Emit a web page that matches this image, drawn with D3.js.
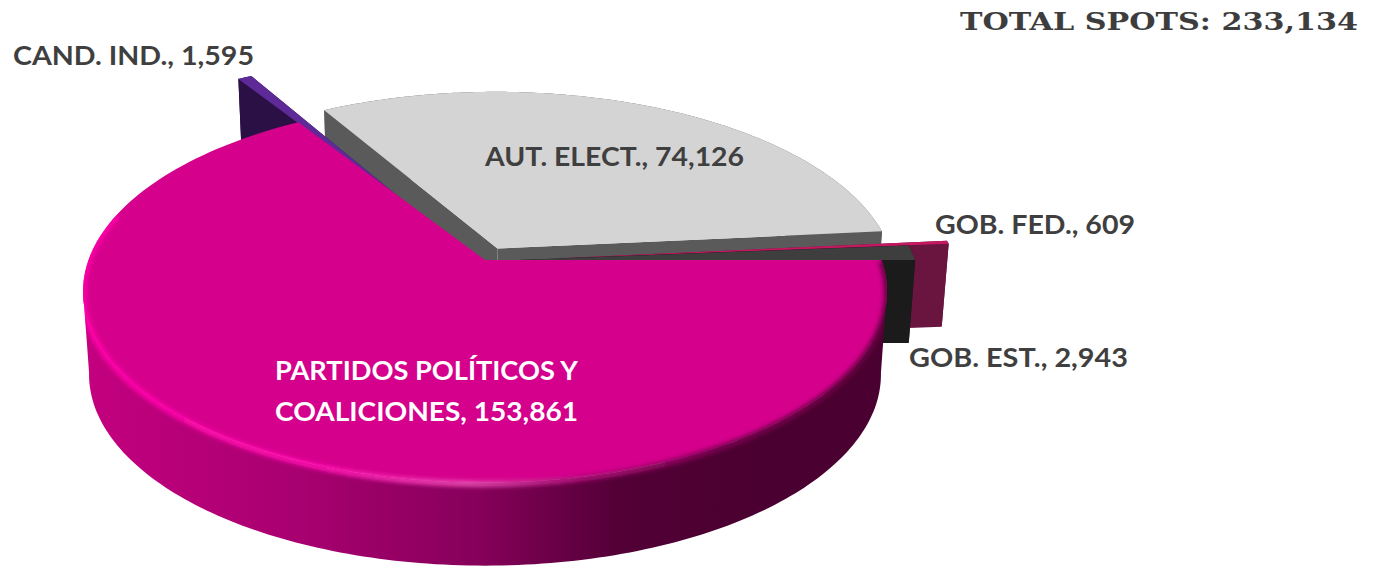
<!DOCTYPE html>
<html><head><meta charset="utf-8">
<script src="https://cdn.jsdelivr.net/npm/d3@7"></script>
<style>html,body{margin:0;padding:0;background:#fff;overflow:hidden}svg{display:block}</style>
</head><body>
<svg id="c" width="1373" height="568"></svg>
<script>
const categories = ["PARTIDOS POLÍTICOS Y COALICIONES", "CAND. IND.", "AUT. ELECT.", "GOB. FED.", "GOB. EST."];
const values = [153861, 1595, 74126, 609, 2943];
const totalLabel = "TOTAL SPOTS: 233,134";
const topColors = ["#D5008C", "#5E2A97", "#D4D4D4", "#C4185F", "#3E3E3E"];
const wallColors = [null, "#2B1046", "#5A5A5A", "#6A1440", "#1B1B1B"];
const explodeRadius = [0, 0.376, 0.07, 0.19, 0.085];
const explodeDir = [0, -33, 27, 87, 90];

const fmt = d3.format(",");
const svg = d3.select("#c");
const defs = svg.append("defs");
const CX = 485, CY = 260, R = 396.5, A = 186, K = 0.1646, DEPTH = 83, SX = 0.985;
const rad = d3.scaleLinear().domain([0, 360]).range([0, 2 * Math.PI]);
const project = (u, v, z) => {
  const w = 1 - K * v;
  return [CX + (R * u / w) * (1 - (1 - SX) * z), CY + A * v / w + DEPTH * z];
};
const pie = d3.pie().sort(null).value(d => d)
  .startAngle(Math.PI / 2).endAngle(Math.PI / 2 + 2 * Math.PI);
const arcs = pie(values);

const line = d3.line();
const offset = i => [explodeRadius[i] * Math.sin(rad(explodeDir[i])), -explodeRadius[i] * Math.cos(rad(explodeDir[i]))];
const rim = (i, z, a0, a1, n = 160) => {
  const [ox, oy] = offset(i);
  return d3.range(n + 1).map(k => {
    const a = a0 + (a1 - a0) * k / n;
    return project(ox + Math.sin(a), oy - Math.cos(a), z);
  });
};
const apex = (i, z) => { const [ox, oy] = offset(i); return project(ox, oy, z); };
const closed = pts => line(pts) + "Z";

// gradients and filters
const sideGrad = defs.append("linearGradient").attr("id", "side")
  .attr("gradientUnits", "userSpaceOnUse").attr("x1", 82).attr("x2", 885).attr("y1", 0).attr("y2", 0);
[[0, "#C4007F"], [0.27, "#A80070"], [0.495, "#86005A"], [0.67, "#520036"], [0.85, "#4A0030"], [1, "#4A0030"]]
  .forEach(([o, c]) => sideGrad.append("stop").attr("offset", o).attr("stop-color", c));
const rimGrad = defs.append("linearGradient").attr("id", "rim")
  .attr("gradientUnits", "userSpaceOnUse").attr("x1", 82).attr("x2", 885).attr("y1", 0).attr("y2", 0);
[[0, "#FF00A8"], [0.3, "#FF10B0"], [0.48, "#E84AB0"], [0.62, "#B0107A"], [0.8, "#7A0050"], [1, "#6A0044"]]
  .forEach(([o, c]) => rimGrad.append("stop").attr("offset", o).attr("stop-color", c));
defs.append("filter").attr("id", "blur").attr("x", "-5%").attr("y", "-5%").attr("width", "110%").attr("height", "110%")
  .append("feGaussianBlur").attr("stdDeviation", 2);

const drawSlice = (i) => {
  const d = arcs[i], g = svg.append("g");
  const wall = wallColors[i];
  const a0 = d.startAngle, a1 = d.endAngle;
  const radial = a => {
    const outerTop = rim(i, 0, a, a, 1)[0], outerBot = rim(i, 1, a, a, 1)[0];
    return [apex(i, 0), outerTop, outerBot, apex(i, 1)];
  };
  g.append("path").attr("d", closed(radial(a0))).attr("fill", wall);
  g.append("path").attr("d", closed(radial(a1))).attr("fill", wall);
  g.append("path").attr("d", closed(rim(i, 0, a0, a1).concat(rim(i, 1, a0, a1).reverse()))).attr("fill", wall);
  g.append("path").attr("d", closed([apex(i, 0)].concat(rim(i, 0, a0, a1)))).attr("fill", topColors[i]);
};

// back slices first (the purple sliver lies in front of the grey wall), the large front slice last
[2, 1, 3, 4].forEach(drawSlice);

const m = arcs[0];
// the side band runs between the rim's rightmost and leftmost points, its visible silhouette
const rightmost = rad(99), leftmost = rad(261);
const bandPts = rim(0, 0, rightmost, leftmost).concat(rim(0, 1, rightmost, leftmost).reverse());
svg.append("path").attr("d", closed(bandPts)).attr("fill", "url(#side)");
const topPts = [apex(0, 0)].concat(rim(0, 0, m.startAngle, m.endAngle));
svg.append("path").attr("d", closed(topPts)).attr("fill", topColors[0]);
const clip = defs.append("clipPath").attr("id", "solid");
clip.append("path").attr("d", closed(bandPts));
clip.append("path").attr("d", closed(topPts));
// soft bevel along the front rim
svg.append("g").attr("clip-path", "url(#solid)").append("path")
  .attr("d", line(rim(0, 0.015, m.startAngle, rad(285))))
  .attr("fill", "none").attr("stroke", "url(#rim)").attr("stroke-width", 6)
  .attr("filter", "url(#blur)");

// labels
const label = (txt, x, y, fill, len) => svg.append("text")
  .attr("x", x).attr("y", y).attr("fill", fill)
  .attr("font-family", "Lato, 'Open Sans', sans-serif").attr("font-weight", 700).attr("font-size", 27)
  .attr("textLength", len).attr("lengthAdjust", "spacingAndGlyphs").text(txt);
const dark = "#3F3F3F";
label(`${categories[1]}, ${fmt(values[1])}`, 13, 65, dark, 241);
label(`${categories[2]}, ${fmt(values[2])}`, 485, 166, dark, 259);
label(`${categories[3]}, ${fmt(values[3])}`, 935, 234, dark, 200);
label(`${categories[4]}, ${fmt(values[4])}`, 909, 367, dark, 219);
label("PARTIDOS POLÍTICOS Y", 275, 380, "#FFF", 303);
label(`COALICIONES, ${fmt(values[0])}`, 275, 421, "#FFF", 303);
svg.append("text").attr("x", 960).attr("y", 30).attr("fill", "#3D3D3D")
  .attr("font-family", "'DejaVu Serif', serif").attr("font-weight", 700).attr("font-size", 25)
  .attr("textLength", 398).attr("lengthAdjust", "spacingAndGlyphs").text(totalLabel);
</script>
</body></html>
